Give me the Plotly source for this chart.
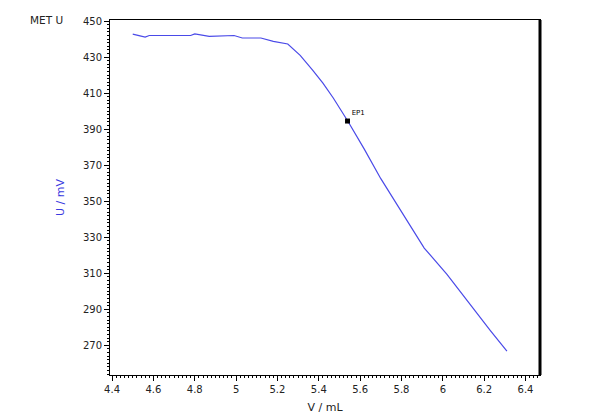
import plotly.graph_objects as go

# titration curve
vol_ml = [4.50, 4.56, 4.58, 4.78, 4.80, 4.83, 4.87, 4.99, 5.03, 5.12, 5.18, 5.25,
          5.31, 5.37, 5.42, 5.47, 5.51, 5.54, 5.62, 5.70, 5.78, 5.85, 5.91,
          6.02, 6.13, 6.23, 6.31]
u_mv = [442.8, 441.1, 442.0, 442.0, 442.9, 442.4, 441.5, 442.0, 440.6, 440.6, 438.7, 437.3,
        431.0, 422.8, 415.5, 407.3, 400.0, 394.5, 378.9, 362.5, 347.8, 335.0, 324.0,
        309.4, 292.9, 278.2, 266.8]

ep_vol = [5.539]
ep_u = [394.5]
ep_label = ["EP1"]

font = "DejaVu Sans"

fig = go.Figure()
fig.add_trace(go.Scatter(x=vol_ml, y=u_mv, mode="lines",
                         line=dict(color="#4a4ae8", width=1.2),
                         showlegend=False, hoverinfo="skip"))
fig.add_trace(go.Scatter(x=ep_vol, y=ep_u, mode="markers+text",
                         marker=dict(symbol="square", size=5, color="black"),
                         text=ep_label, textposition="top right",
                         textfont=dict(size=7, color="black", family=font),
                         showlegend=False))

axis_common = dict(showgrid=False, zeroline=False, showline=True, mirror=True,
                   linecolor="black", linewidth=1, ticks="outside", ticklen=5,
                   tickcolor="black", tickfont=dict(size=10, color="#222", family=font))

fig.update_xaxes(range=[4.39, 6.47], tick0=4.4, dtick=0.2,
                 minor=dict(dtick=0.02, ticklen=2, tickcolor="black", ticks="outside"),
                 title=dict(text="V / mL", font=dict(size=11, color="#222", family=font),
                            standoff=9),
                 **axis_common)
fig.update_yaxes(range=[253.5, 450.6], tick0=270, dtick=20,
                 minor=dict(dtick=2, ticklen=2, tickcolor="black", ticks="outside"),
                 title=dict(text="U / mV", font=dict(size=11, color="#3a3ae0", family=font),
                            standoff=16),
                 **axis_common)

# heavier right edge of the frame
fig.add_shape(type="line", xref="paper", yref="paper", x0=1, x1=1, y0=0, y1=1,
              line=dict(color="black", width=3))

# page body has an 8px margin, so the figure is a bit smaller than the window
fig.update_layout(
    width=592, height=412,
    margin=dict(l=102, r=60, t=8, b=45),
    paper_bgcolor="white", plot_bgcolor="white",
    font=dict(family=font),
    annotations=[dict(text="MET U", xref="paper", yref="paper", x=-0.191, y=1.022,
                      xanchor="left", yanchor="top", showarrow=False,
                      font=dict(size=10.5, color="#222", family=font))],
)

fig.write_html("out.html")
